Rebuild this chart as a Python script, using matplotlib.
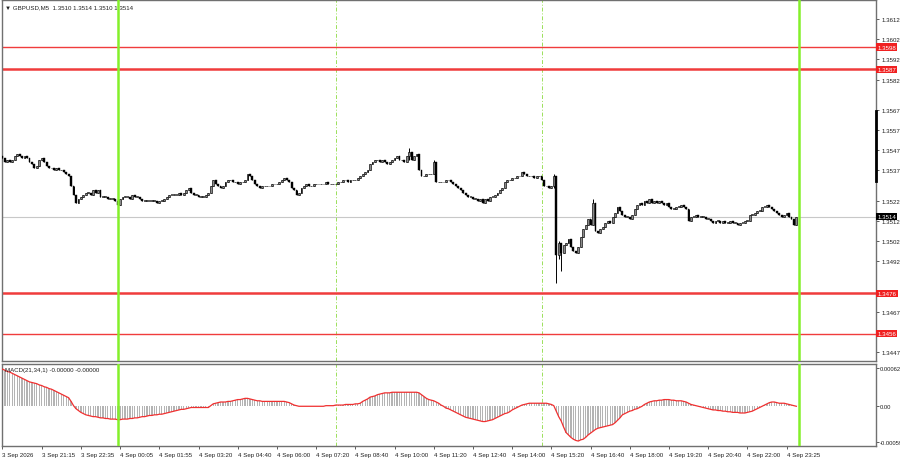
import matplotlib
matplotlib.use("Agg")
import matplotlib.pyplot as plt

plt.rcParams['font.family'] = ['Liberation Sans', 'DejaVu Sans']

# closes in pips above 1.3400, one per M5 bar
closes = [
    143, 141, 142, 141, 142, 144, 145, 144, 143, 144,
    143, 141, 140, 138, 139, 142, 143, 141, 139, 138,
    138, 137, 138, 137, 137, 136, 135, 134, 129, 125,
    121, 123, 124, 125, 126, 126, 125, 127, 126, 127,
    124, 124, 124, 123, 123, 123, 122, 120, 123, 124,
    124, 124, 123, 125, 124, 124, 123, 122, 122, 122,
    122, 122, 122, 121, 122, 122, 123, 124, 125, 125,
    125, 125, 126, 125, 126, 127, 128, 126, 125, 125,
    124, 124, 124, 125, 126, 129, 132, 130, 129, 128,
    129, 131, 132, 132, 131, 131, 130, 131, 131, 132,
    135, 134, 132, 130, 129, 128, 129, 129, 129, 129,
    130, 130, 130, 131, 132, 133, 132, 131, 128, 127,
    125, 126, 128, 129, 130, 129, 129, 130, 130, 130,
    130, 130, 131, 130, 130, 130, 130, 131, 131, 132,
    132, 131, 132, 132, 132, 133, 134, 135, 136, 137,
    140, 141, 142, 142, 141, 142, 141, 140, 141, 142,
    143, 144, 142, 142, 141, 144, 146, 142, 144, 145,
    137, 134, 134, 135, 135, 135, 141, 131, 131, 131,
    131, 132, 132, 131, 130, 129, 128, 127, 126, 125,
    124, 124, 123, 123, 122, 123, 121, 123, 122, 124,
    124, 125, 126, 127, 128, 131, 132, 132, 133, 133,
    134, 134, 136, 135, 134, 134, 134, 133, 134, 134,
    132, 129, 129, 128, 129, 134, 95, 101, 96, 100,
    101, 103, 99, 97, 96, 99, 104, 108, 110, 113,
    110, 121, 107, 106, 108, 109, 111, 112, 111, 114,
    116, 119, 117, 115, 114, 114, 113, 115, 118, 120,
    121, 120, 122, 121, 123, 121, 122, 121, 122, 121,
    120, 121, 119, 118, 118, 119, 119, 120, 119, 118,
    112, 114, 114, 115, 114, 114, 114, 113, 113, 112,
    111, 112, 112, 111, 112, 111, 111, 112, 111, 111,
    110, 111, 111, 112, 112, 115, 115, 116, 117, 117,
    119, 119, 120, 119, 118, 117, 116, 115, 114, 115,
    116, 114, 113, 110, 114,
]
first_open = 144
# notable wicks: bar -> (high, low) in pips
wicks = {47: (123, 119), 166: (148, 142), 176: (142, 135), 225: (135, 128),
         226: (134, 81), 227: (102, 93), 228: (101, 87), 241: (123, 110)}

# MACD(21,34,1) in 1e-5
macd = [
    61, 59, 57, 56, 54, 52, 50, 48, 46, 44,
    42, 40, 39, 38, 37, 35, 34, 32, 31, 29,
    28, 26, 24, 22, 20, 18, 16, 14, 8, 1,
    -4, -7, -10, -12, -14, -15, -16, -17, -17, -18,
    -19, -19, -20, -20, -21, -21, -21, -22, -22, -21,
    -21, -21, -20, -20, -19, -19, -18, -17, -17, -16,
    -15, -15, -14, -14, -13, -13, -12, -11, -10, -9,
    -8, -7, -6, -5, -5, -4, -3, -2, -2, -2,
    -2, -2, -2, -2, -2, 1, 4, 5, 6, 7,
    7, 7, 8, 8, 9, 10, 11, 11, 12, 13,
    13, 12, 11, 10, 9, 9, 8, 8, 8, 8,
    8, 8, 8, 8, 8, 8, 7, 6, 4, 2,
    1, 0, 0, 0, 0, 0, 0, 0, 0, 0,
    0, 0, 1, 1, 1, 1, 2, 2, 2, 2,
    3, 3, 3, 3, 4, 4, 5, 8, 10, 12,
    15, 16, 17, 19, 20, 21, 22, 22, 22, 23,
    23, 23, 23, 23, 23, 23, 23, 23, 23, 23,
    22, 19, 16, 13, 11, 10, 9, 7, 5, 2,
    0, -3, -4, -6, -8, -10, -12, -14, -16, -18,
    -19, -20, -21, -22, -23, -24, -25, -25, -24, -23,
    -22, -20, -18, -16, -14, -12, -11, -9, -6, -4,
    -2, 0, 2, 3, 4, 5, 5, 5, 5, 5,
    5, 5, 5, 4, 3, 1, -8, -17, -24, -34,
    -43, -47, -51, -54, -56, -57, -55, -54, -51, -47,
    -44, -41, -38, -36, -35, -34, -33, -32, -31, -30,
    -27, -23, -19, -14, -12, -10, -8, -7, -5, -4,
    -2, 0, 3, 5, 7, 8, 9, 9, 10, 10,
    11, 11, 11, 10, 10, 9, 9, 9, 8, 7,
    5, 3, 2, 1, 0, -1, -2, -3, -4, -5,
    -6, -6, -7, -7, -8, -8, -9, -9, -10, -10,
    -10, -11, -11, -11, -10, -9, -8, -6, -4, -2,
    0, 2, 4, 6, 7, 7, 6, 5, 5, 5,
    4, 3, 2, 1, 0,
]

time_labels = ["3 Sep 2026", "3 Sep 21:15", "3 Sep 22:35", "4 Sep 00:05", "4 Sep 01:55",
               "4 Sep 03:20", "4 Sep 04:40", "4 Sep 06:00", "4 Sep 07:20", "4 Sep 08:40",
               "4 Sep 10:00", "4 Sep 11:20", "4 Sep 12:40", "4 Sep 14:00", "4 Sep 15:20",
               "4 Sep 16:40", "4 Sep 18:00", "4 Sep 19:20", "4 Sep 20:40", "4 Sep 22:00",
               "4 Sep 23:25"]
price_ticks = [1.3612, 1.3602, 1.3592, 1.3582, 1.3567, 1.3557, 1.3547, 1.3537,
               1.3522, 1.3512, 1.3502, 1.3492, 1.3467, 1.3447]
red_levels = [1.3598, 1.3587, 1.3476, 1.3456]
red_widths = [1.0, 1.8, 1.8, 1.0]
last_price = 1.3514
green_bars = [47.3, 324.9]
dashed_bars = [136.1, 220.0]

base = 1.34
pip = 0.0001
n = len(closes)
opens = [first_open] + closes[:-1]
idx = list(range(n))
fs = 4.4

fig = plt.figure(figsize=(9, 4.6), dpi=100)
ax = fig.add_axes([2 / 900, 1 - 362 / 460, 874 / 900, 361 / 460])
mx = fig.add_axes([2 / 900, 1 - 447 / 460, 874 / 900, 82 / 460])

x_left, x_right = -0.2, 356.5

# candles
for i in idx:
    o = base + opens[i] * pip
    c = base + closes[i] * pip
    hi, lo = max(o, c), min(o, c)
    if i in wicks:
        hi = base + wicks[i][0] * pip
        lo = base + wicks[i][1] * pip
    ax.vlines(i, lo, hi, color='black', lw=0.7, zorder=3)
    h = max(abs(c - o), 0.35 * pip)
    if c >= o:
        ax.bar(i, h, bottom=min(o, c), width=0.75, color='#8a8a8a', edgecolor='black', lw=0.45, zorder=4)
    else:
        ax.bar(i, h, bottom=min(o, c), width=0.75, color='black', edgecolor='black', lw=0.3, zorder=4)

# levels
for lv, w in zip(red_levels, red_widths):
    ax.axhline(lv, color='#f03c3c', lw=w, zorder=2)
ax.axhline(last_price, color='#c8c8c8', lw=0.8, zorder=1)

for a in (ax, mx):
    for b in green_bars:
        a.axvline(b, color='#84f02a', lw=1.8, zorder=5)
    for b in dashed_bars:
        a.axvline(b, color='#9be05a', lw=0.7, ls=(0, (4, 2, 1, 2)), zorder=1)
    a.set_xlim(x_left, x_right)
    for s in a.spines.values():
        s.set_color('#707070')
        s.set_linewidth(1.0)
    a.set_facecolor('white')

ax.set_ylim(1.34425, 1.36214)
ax.set_xticks([])
ax.yaxis.tick_right()
ax.set_yticks(price_ticks)
ax.set_yticklabels(["%.4f" % p for p in price_ticks])
ax.tick_params(axis='y', length=2.5, width=0.6, color='#404040', labelsize=fs, pad=1.2, labelcolor='#202020')

for lv in red_levels:
    ax.text(1.0015, lv, "%.4f" % lv, transform=ax.get_yaxis_transform(), fontsize=fs, color='white',
            va='center', ha='left', bbox=dict(boxstyle='square,pad=0.2', fc='#f02020', ec='none'), zorder=6,
            clip_on=False)
ax.text(1.0015, last_price, "%.4f" % last_price, transform=ax.get_yaxis_transform(), fontsize=fs,
        color='white', va='center', ha='left',
        bbox=dict(boxstyle='square,pad=0.2', fc='black', ec='none'), zorder=6, clip_on=False)
# scale marker on the price axis
ax.plot([1.0, 1.0], [1.35664, 1.35317], transform=ax.get_yaxis_transform(), color='black', lw=2.0,
        clip_on=False, zorder=6)

ax.text(0.003, 0.988, "\u25bc GBPUSD,M5  1.3510 1.3514 1.3510 1.3514", transform=ax.transAxes,
        fontsize=fs, va='top', ha='left', color='#202020', family=['Liberation Sans', 'DejaVu Sans'])

# MACD panel
mvals = [v * 1e-5 for v in macd]
mx.bar(idx, mvals, width=0.5, color='#b4b4b4', zorder=2)
mx.plot(idx, mvals, color='#f03030', lw=0.9, zorder=3)
mx.set_ylim(-0.000651, 0.000693)
mx.yaxis.tick_right()
mx.set_yticks([0.00062, 0.0, -0.00059])
mx.set_yticklabels(["0.00062", "0.00", "-0.00059"])
mx.tick_params(axis='y', length=2.0, width=0.6, color='#404040', labelsize=4.2, pad=0.8, labelcolor='#202020')
mx.text(0.003, 0.96, "MACD(21,34,1) -0.00000 -0.00000", transform=mx.transAxes, fontsize=fs,
        va='top', ha='left', color='#202020')

tick_pos = [16 * k for k in range(len(time_labels))]
mx.set_xticks(tick_pos)
mx.set_xticklabels(time_labels, ha='left')
mx.tick_params(axis='x', length=2.5, width=0.6, color='#404040', labelsize=fs, pad=1.5, labelcolor='#202020')

fig.savefig("out.png", dpi=100, facecolor='white')
